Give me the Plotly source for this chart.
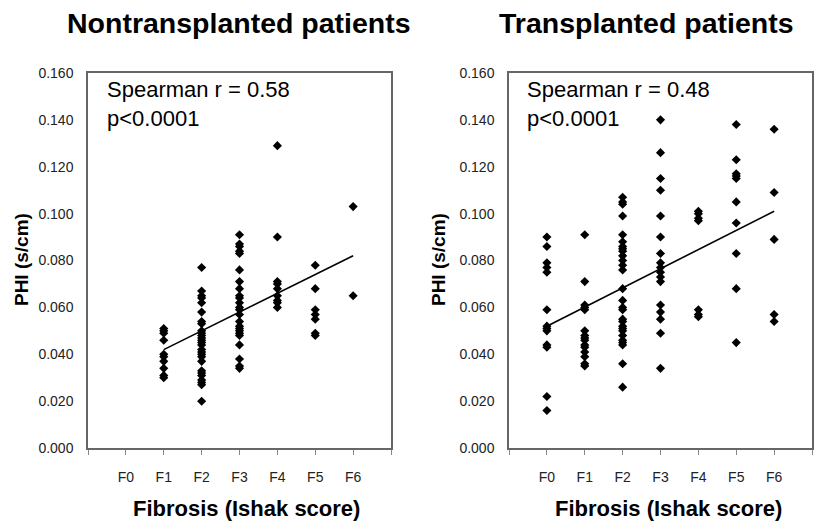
import plotly.graph_objects as go

W, H = 816, 522

categories = ["F0", "F1", "F2", "F3", "F4", "F5", "F6"]

# Nontransplanted patients: PHI (s/cm) per fibrosis stage
non_F1 = [0.051, 0.050, 0.049, 0.046, 0.040, 0.039, 0.037, 0.034, 0.031, 0.030]
non_F2 = [0.077, 0.067, 0.065, 0.064, 0.062, 0.058, 0.054, 0.053, 0.050, 0.049,
          0.048, 0.047, 0.046, 0.045, 0.044, 0.042, 0.041, 0.040, 0.039, 0.037,
          0.033, 0.032, 0.031, 0.029, 0.028, 0.027, 0.020]
non_F3 = [0.091, 0.087, 0.086, 0.084, 0.083, 0.076, 0.071, 0.068, 0.065, 0.064,
          0.062, 0.060, 0.059, 0.057, 0.054, 0.052, 0.051, 0.050, 0.049, 0.048,
          0.044, 0.038, 0.035, 0.034]
non_F4 = [0.129, 0.090, 0.071, 0.070, 0.068, 0.065, 0.063, 0.062, 0.060]
non_F5 = [0.078, 0.068, 0.059, 0.057, 0.055, 0.049, 0.048]
non_F6 = [0.103, 0.065]
non_trend_x = ["F1", "F6"]
non_trend_y = [0.042, 0.082]

# Transplanted patients
tx_F0 = [0.090, 0.086, 0.079, 0.077, 0.075, 0.059, 0.052, 0.051, 0.050, 0.044,
         0.043, 0.022, 0.016]
tx_F1 = [0.091, 0.071, 0.061, 0.060, 0.059, 0.050, 0.048, 0.047, 0.046, 0.044,
         0.043, 0.041, 0.039, 0.036, 0.035]
tx_F2 = [0.107, 0.105, 0.104, 0.099, 0.091, 0.088, 0.086, 0.085, 0.084, 0.082,
         0.080, 0.078, 0.076, 0.068, 0.063, 0.060, 0.059, 0.055, 0.054, 0.052,
         0.051, 0.050, 0.048, 0.046, 0.045, 0.044, 0.036, 0.026]
tx_F3 = [0.140, 0.126, 0.115, 0.110, 0.099, 0.090, 0.083, 0.079, 0.077, 0.075,
         0.073, 0.071, 0.061, 0.058, 0.055, 0.049, 0.034]
tx_F4 = [0.101, 0.100, 0.098, 0.097, 0.059, 0.057, 0.056]
tx_F5 = [0.138, 0.123, 0.117, 0.116, 0.115, 0.105, 0.096, 0.083, 0.068, 0.045]
tx_F6 = [0.136, 0.109, 0.089, 0.057, 0.054]
tx_trend_x = ["F0", "F6"]
tx_trend_y = [0.052, 0.101]

y_ticks = [0.000, 0.020, 0.040, 0.060, 0.080, 0.100, 0.120, 0.140, 0.160]

non_groups = {"F1": non_F1, "F2": non_F2, "F3": non_F3, "F4": non_F4, "F5": non_F5, "F6": non_F6}
tx_groups = {"F0": tx_F0, "F1": tx_F1, "F2": tx_F2, "F3": tx_F3, "F4": tx_F4, "F5": tx_F5, "F6": tx_F6}

idx = {c: i for i, c in enumerate(categories)}

def flatten(groups):
    xs, ys = [], []
    for k, vals in groups.items():
        for v in vals:
            xs.append(idx[k])
            ys.append(v)
    return xs, ys

FONT = "Liberation Sans, Arial, sans-serif"
fig = go.Figure()

for groups, tx, ty, xa, ya in [
    (non_groups, non_trend_x, non_trend_y, "x", "y"),
    (tx_groups, tx_trend_x, tx_trend_y, "x2", "y2"),
]:
    xs, ys = flatten(groups)
    fig.add_trace(go.Scatter(x=xs, y=ys, mode="markers", xaxis=xa, yaxis=ya,
                             marker=dict(symbol="diamond", size=7, color="black"),
                             showlegend=False))
    fig.add_trace(go.Scatter(x=[idx[c] for c in tx], y=ty, mode="lines", xaxis=xa, yaxis=ya,
                             line=dict(color="black", width=1.6), showlegend=False))

def px_x(p):
    return p / W

def px_y(p):
    return 1 - p / H

ydom = [px_y(454), px_y(67)]
common_x = dict(range=[-1, 7], tickmode="array", tickvals=list(range(-1, 8)),
                ticktext=[""] + categories + [""], ticks="outside", ticklen=5,
                tickcolor="#888", tickwidth=1, showline=True, mirror=True,
                linecolor="#666", linewidth=1.5, showgrid=False, zeroline=False,
                tickfont=dict(family=FONT, size=14, color="#222"),
                ticklabelstandoff=10)
common_y = dict(range=[0, 0.16], tickmode="array", tickvals=y_ticks,
                ticktext=[f"{v:.3f}" for v in y_ticks], ticks="",
                showline=True, mirror=True, linecolor="#666", linewidth=1.5,
                showgrid=False, zeroline=False,
                tickfont=dict(family=FONT, size=14, color="#222"),
                ticklabelstandoff=10)

fig.update_layout(
    width=W, height=H, margin=dict(l=0, r=0, t=0, b=0),
    paper_bgcolor="white", plot_bgcolor="white",
    xaxis=dict(domain=[px_x(88), px_x(391)], anchor="y", **common_x),
    yaxis=dict(domain=ydom, anchor="x", **common_y),
    xaxis2=dict(domain=[px_x(509), px_x(812)], anchor="y2", **common_x),
    yaxis2=dict(domain=ydom, anchor="x2", **common_y),
)

annotations = [
    dict(text="<b>Nontransplanted patients</b>", x=px_x(239), y=px_y(15), size=28.5),
    dict(text="<b>Transplanted patients</b>", x=px_x(646), y=px_y(15), size=28.5),
    dict(text="<b>Fibrosis (Ishak score)</b>", x=px_x(246), y=px_y(516), size=22),
    dict(text="<b>Fibrosis (Ishak score)</b>", x=px_x(668), y=px_y(516), size=22),
]
for a in annotations:
    fig.add_annotation(text=a["text"], x=a["x"], y=a["y"], xref="paper", yref="paper",
                       showarrow=False, xanchor="center", yanchor="middle",
                       font=dict(family=FONT, size=a["size"], color="black"))

for xpos in [21, 438]:
    fig.add_annotation(text="<b>PHI (s/cm)</b>", x=px_x(xpos), y=px_y(260), xref="paper", yref="paper",
                       showarrow=False, xanchor="center", yanchor="middle", textangle=-90,
                       font=dict(family=FONT, size=19, color="black"))

for xpos, r in [(105, "0.58"), (525, "0.48")]:
    fig.add_annotation(text=f"Spearman r = {r}<br>p&lt;0.0001", x=px_x(xpos), y=px_y(99),
                       xref="paper", yref="paper", showarrow=False, xanchor="left",
                       yanchor="middle", align="left",
                       font=dict(family=FONT, size=22, color="black"))

fig.write_html("out.html")
